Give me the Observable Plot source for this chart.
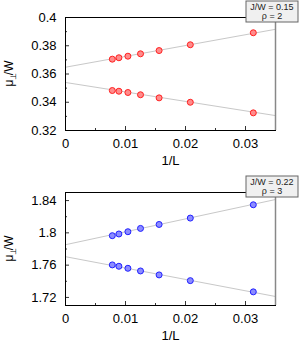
<!DOCTYPE html>
<html><head><meta charset="utf-8">
<script src="https://cdn.jsdelivr.net/npm/d3@7"></script>
<script src="https://cdn.jsdelivr.net/npm/@observablehq/plot@0.6"></script>
<style>body{margin:0;background:#fff}#c{width:300px}#c svg{display:block}</style>
</head><body><div id="c"></div>
<script>
// 1/L values
const invL = [0.0078, 0.0089, 0.0104, 0.0125, 0.0156, 0.0208, 0.0313];
// panel 1 (J/W = 0.15, rho = 2)
const p1Upper = [0.3705, 0.3715, 0.3726, 0.3743, 0.3766, 0.3807, 0.3892];
const p1Lower = [0.3483, 0.3478, 0.3469, 0.3453, 0.3431, 0.3400, 0.3325];
const p1FitIntercept = [0.3648, 0.3540];
const p1FitSlope = [0.767, -0.670];
// panel 2 (J/W = 0.22, rho = 3)
const p2Upper = [1.7965, 1.7986, 1.8014, 1.8055, 1.8104, 1.8183, 1.8348];
const p2Lower = [1.7603, 1.7586, 1.7561, 1.7528, 1.7479, 1.7408, 1.7269];
const p2FitIntercept = [1.7853, 1.7705];
const p2FitSlope = [1.60, -1.41];
// axes
const xDomain = [0, 0.035];
const xMajor = [0, 0.01, 0.02, 0.03];
const xMinor = [0.005, 0.015, 0.025];
const p1YDomain = [0.32, 0.40];
const p1YMajor = [0.32, 0.34, 0.36, 0.38, 0.40];
const p1YMinor = [0.33, 0.35, 0.37, 0.39];
const p2YDomain = [1.71, 1.85];
const p2YMajor = [1.72, 1.76, 1.80, 1.84];
const p2YMinor = [1.74, 1.78, 1.82];
const p1Labels = ["J/W = 0.15", "ρ = 2"];
const p2Labels = ["J/W = 0.22", "ρ = 3"];

function panel(cfg) {
  const W = 300, H = 175, mL = 65, mR = 25, mT = 17, mB = 45;
  const iw = W - mL - mR, ih = H - mT - mB;
  const pts = [];
  cfg.upper.forEach((v, i) => pts.push({x: invL[i], y: v, s: "u"}));
  cfg.lower.forEach((v, i) => pts.push({x: invL[i], y: v, s: "l"}));
  const fit = [];
  cfg.a.forEach((a, k) => xDomain.forEach(x => fit.push({x, y: a + cfg.b[k] * x, s: k})));
  const svg = Plot.plot({
    width: W, height: H, marginLeft: mL, marginRight: mR, marginTop: mT, marginBottom: mB,
    style: {fontFamily: "'Liberation Sans', Arial, sans-serif", fontSize: "13px", background: "white", color: "black"},
    x: {domain: xDomain},
    y: {domain: cfg.yDomain},
    marks: [
      Plot.axisX({ticks: xMajor, tickSize: 0, tickPadding: 8, tickFormat: "~g", label: null}),
      Plot.axisY({ticks: cfg.yMajor, tickSize: 0, tickPadding: 9, tickFormat: "~g", label: null}),
      Plot.tickX(xMajor, {x: d => d, insetTop: ih - 4, stroke: "#000", strokeWidth: 0.8}),
      Plot.tickX(xMinor, {x: d => d, insetTop: ih - 2, stroke: "#000", strokeWidth: 0.8}),
      Plot.tickY(cfg.yMajor, {y: d => d, insetRight: iw - 4, stroke: "#000", strokeWidth: 0.8}),
      Plot.tickY(cfg.yMinor, {y: d => d, insetRight: iw - 2, stroke: "#000", strokeWidth: 0.8}),
      Plot.line(fit, {x: "x", y: "y", z: "s", stroke: "#c8c8c8", strokeWidth: 1}),
      Plot.dot(pts, {x: "x", y: "y", r: 3, fill: cfg.fill, stroke: cfg.stroke, strokeWidth: 1}),
      Plot.frame({stroke: "#000", strokeWidth: 1}),
      Plot.ruleX([xDomain[1]], {stroke: "#888", strokeWidth: 1.5}),
      Plot.text(["1/L"], {text: d => d, frameAnchor: "bottom", dy: 34, fontSize: 13})
    ]
  });
  const s = d3.select(svg);
  // y label
  const t = s.append("text")
    .attr("transform", `translate(13,${mT + ih / 2}) rotate(-90)`)
    .attr("text-anchor", "middle")
    .attr("font-size", 12)
    .attr("fill", "black")
    .attr("font-family", "'Liberation Sans', Arial, sans-serif");
  t.append("tspan").text("μ");
  t.append("tspan").attr("dy", 3).attr("dx", -0.5).attr("font-size", 8).text("⊥");
  t.append("tspan").attr("dy", -3).attr("dx", -2).text("/W");
  // label box
  const g = s.append("g").attr("font-family", "'Liberation Sans', Arial, sans-serif");
  g.append("rect").attr("x", 246).attr("y", 1).attr("width", 52).attr("height", 21)
    .attr("fill", "#f0f0f0").attr("stroke", "#666").attr("stroke-width", 1);
  cfg.labels.forEach((l, i) => g.append("text").attr("x", 272).attr("y", 10 + i * 9)
    .attr("text-anchor", "middle").attr("font-size", 9).attr("fill", "#222").text(l));
  return svg;
}

const c = document.getElementById("c");
c.append(panel({upper: p1Upper, lower: p1Lower, a: p1FitIntercept, b: p1FitSlope,
  yDomain: p1YDomain, yMajor: p1YMajor, yMinor: p1YMinor, labels: p1Labels,
  fill: "#ff8c8c", stroke: "#ff2020"}));
c.append(panel({upper: p2Upper, lower: p2Lower, a: p2FitIntercept, b: p2FitSlope,
  yDomain: p2YDomain, yMajor: p2YMajor, yMinor: p2YMinor, labels: p2Labels,
  fill: "#8c8cff", stroke: "#2020ff"}));
</script>
</body></html>
